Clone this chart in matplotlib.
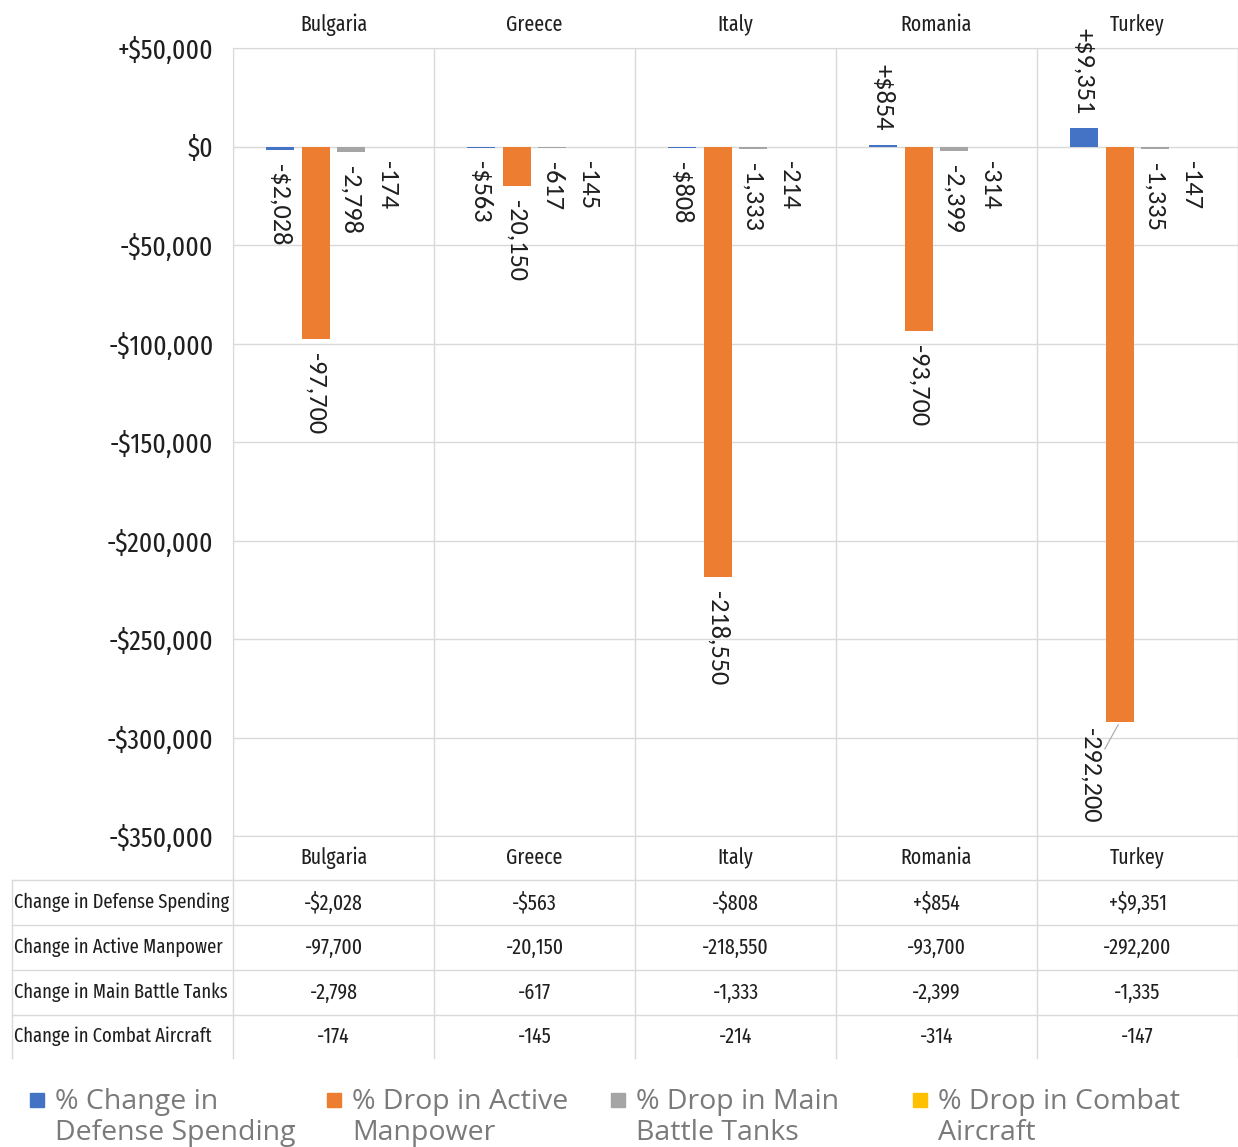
import numpy as np
import matplotlib
matplotlib.use("Agg")
import matplotlib.pyplot as plt
from matplotlib.patches import Rectangle

countries = ["Bulgaria", "Greece", "Italy", "Romania", "Turkey"]
defense_spending = [-2028, -563, -808, 854, 9351]
active_manpower = [-97700, -20150, -218550, -93700, -292200]
battle_tanks = [-2798, -617, -1333, -2399, -1335]
combat_aircraft = [-174, -145, -214, -314, -147]

series_names = ["% Change in\nDefense Spending", "% Drop in Active\nManpower",
                "% Drop in Main\nBattle Tanks", "% Drop in Combat\nAircraft"]
row_names = ["Change in Defense Spending", "Change in Active Manpower",
             "Change in Main Battle Tanks", "Change in Combat Aircraft"]
colors = ["#4472C4", "#ED7D31", "#A5A5A5", "#FFC000"]
yticks = np.arange(-350000, 50001, 50000)

CAL = ["Carlito", "DejaVu Sans"]
COND = ["Fira Sans Extra Condensed", "DejaVu Sans"]
WIDE = ["Open Sans", "DejaVu Sans"]
GRID = "#d9d9d9"
INK = "#1f1f1f"


def fmt(v, money=False):
    sign = "+" if v > 0 else ("-" if v < 0 else "")
    return f"{sign}{'$' if money else ''}{abs(v):,}"


W, H = 1238, 1147
fig = plt.figure(figsize=(W / 100, H / 100), dpi=100)
ax = fig.add_axes([233 / W, 1 - 836 / H, 1005 / W, 788 / H])

x = np.arange(len(countries))
series = [defense_spending, active_manpower, battle_tanks, combat_aircraft]
step, width = 0.178, 0.139

for i, (vals, c) in enumerate(zip(series, colors)):
    pos = x + (i - 1.5) * step
    ax.bar(pos, vals, width, color=c, zorder=3)
    for j, (p, v) in enumerate(zip(pos, vals)):
        txt = fmt(v, money=(i == 0))
        if i == 1 and countries[j] == "Turkey":
            # label pulled left with a leader line
            ax.annotate(txt, (p, v), xytext=(-21, -4), textcoords="offset points",
                        rotation=-90, ha="center", va="top", fontsize=19,
                        family=CAL, color=INK,
                        arrowprops=dict(arrowstyle="-", color="#a6a6a6", lw=0.8,
                                        shrinkA=0, shrinkB=2))
            continue
        dy = -10 if v < 0 else 10
        ax.annotate(txt, (p, v), xytext=(0, dy), textcoords="offset points",
                    rotation=-90, ha="center", va="top" if v < 0 else "bottom",
                    fontsize=19, family=CAL, color=INK)

ax.set_xlim(-0.5, 4.5)
ax.set_ylim(-350000, 50000)
ax.set_yticks(yticks)
ax.set_yticklabels([fmt(v, True) for v in yticks], fontsize=20, family=COND,
                   color=INK)
ax.set_xticks(x)
ax.set_xticklabels(countries, fontsize=15.5, family=COND, color=INK)
ax.set_xticks(np.arange(-0.5, 5, 1), minor=True)
ax.tick_params(axis="x", which="both", top=True, labeltop=True, bottom=False,
               labelbottom=False, length=0, pad=9)
ax.tick_params(axis="y", length=0, pad=14)
ax.grid(axis="y", which="major", color=GRID, lw=1, zorder=0)
ax.grid(axis="x", which="minor", color=GRID, lw=1, zorder=0)
for s in ax.spines.values():
    s.set_color(GRID)

# data table under the plot
tab = fig.add_axes([233 / W, 1 - 1058 / H, 1005 / W, 222 / H])
tab.set_xlim(-0.5, 4.5)
tab.set_ylim(222, 0)
tab.axis("off")
row_edges = [0, 44, 89, 134, 179, 222]
left = -1.59
for y in row_edges[1:-1]:
    tab.plot([left - 0.01, 4.5], [y, y], color=GRID, lw=1, clip_on=False)
for xe in np.arange(-0.5, 5, 1):
    tab.plot([xe, xe], [0, 222], color=GRID, lw=1, clip_on=False)
tab.plot([left - 0.01, left - 0.01], [44, 222], color=GRID, lw=1, clip_on=False)

mids = [(a + b) / 2 for a, b in zip(row_edges[:-1], row_edges[1:])]
for j, name in enumerate(countries):
    tab.text(j, mids[0], name, ha="center", va="center", fontsize=15.5,
             family=COND, color=INK)
for r, (name, vals) in enumerate(zip(row_names, series)):
    ym = mids[r + 1]
    tab.text(left, ym, name, ha="left", va="center", fontsize=14.5,
             family=COND, color=INK, clip_on=False)
    for j, v in enumerate(vals):
        tab.text(j, ym, fmt(v, money=(r == 0)), ha="center", va="center",
                 fontsize=15.5, family=COND, color=INK)

# legend along the bottom
legend_x = [55, 352, 636, 938]
for lx, name, c in zip(legend_x, series_names, colors):
    fig.patches.append(Rectangle(((lx - 25) / W, 1 - 1107 / H), 14 / W, 14 / H,
                                 transform=fig.transFigure, color=c))
    fig.text(lx / W, 1 - 1088 / H, name, ha="left", va="top", fontsize=20.5,
             family=WIDE, color="#7a7a7a", linespacing=1.16)

fig.savefig("out.png", dpi=100)
